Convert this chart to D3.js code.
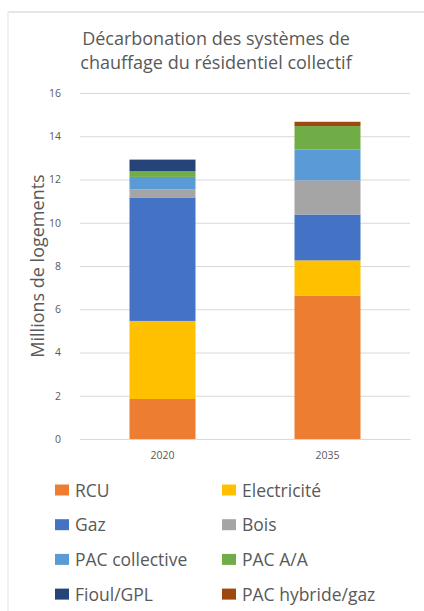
<!DOCTYPE html>
<html>
<head>
<meta charset="utf-8">
<script src="https://cdn.jsdelivr.net/npm/d3@7"></script>
<style>
  body { margin: 0; background: #fff; }
  svg text { font-family: "Open Sans", sans-serif; fill: #595959; }
</style>
</head>
<body>
<svg width="424" height="611"></svg>
<script>
// Data
var years = ["2020", "2035"];
var series = ["RCU", "Electricité", "Gaz", "Bois", "PAC collective", "PAC A/A", "Fioul/GPL", "PAC hybride/gaz"];
var colors = ["#ED7D31", "#FFC000", "#4472C4", "#A5A5A5", "#5B9BD5", "#70AD47", "#264478", "#9E480E"];
var values2020 = [1.85, 3.61, 5.71, 0.38, 0.57, 0.26, 0.54, 0];
var values2035 = [6.62, 1.64, 2.12, 1.58, 1.43, 1.08, 0, 0.2];
var yTicks = [0, 2, 4, 6, 8, 10, 12, 14, 16];

var svg = d3.select("svg");

// frame lines of the screenshot
svg.append("line").attr("x1", 8).attr("x2", 424).attr("y1", 12).attr("y2", 12)
    .attr("stroke", "#e6e6e6").attr("stroke-width", 2);
svg.append("line").attr("x1", 8).attr("x2", 8).attr("y1", 12).attr("y2", 611)
    .attr("stroke", "#ececec").attr("stroke-width", 1.5);

var x = d3.scaleBand().domain(years).range([80, 410]).paddingInner(0.6).paddingOuter(0.3);
var y = d3.scaleLinear().domain([0, 16]).range([439, 93]);

// title
var title = svg.append("text").attr("text-anchor", "middle").style("font-size", "18px");
title.append("tspan").attr("x", 216).attr("y", 45).text("Décarbonation des systèmes de");
title.append("tspan").attr("x", 216).attr("y", 69).text("chauffage du résidentiel collectif");

// grid
var yAxis = d3.axisLeft(y).tickValues(yTicks).tickSize(-(410 - 80)).tickPadding(19);
var gy = svg.append("g").attr("transform", "translate(80,0)").call(yAxis);
gy.select(".domain").remove();
gy.selectAll(".tick line").attr("stroke", "#d9d9d9");
gy.selectAll(".tick text").style("font-size", "10.5px").attr("fill", "#595959");

// stacked bars
var rows = years.map(function (yr, i) {
    var r = { year: yr };
    var vals = i === 0 ? values2020 : values2035;
    series.forEach(function (s, j) { r[s] = vals[j]; });
    return r;
});
var stacked = d3.stack().keys(series)(rows);

svg.append("g").selectAll("g")
    .data(stacked)
    .join("g")
    .attr("fill", function (d, i) { return colors[i]; })
    .selectAll("rect")
    .data(function (d) { return d; })
    .join("rect")
    .attr("x", function (d) { return x(d.data.year); })
    .attr("width", x.bandwidth())
    .attr("y", function (d) { return y(d[1]); })
    .attr("height", function (d) { return y(d[0]) - y(d[1]); });

// x axis labels
var xAxis = d3.axisBottom(x).tickSize(0).tickPadding(13);
var gx = svg.append("g").attr("transform", "translate(0,439)").call(xAxis);
gx.select(".domain").attr("stroke", "#d9d9d9");
gx.selectAll(".tick text").style("font-size", "10.5px").attr("fill", "#595959");

// y axis title
svg.append("text")
    .attr("transform", "translate(44,266) rotate(-90)")
    .attr("text-anchor", "middle")
    .style("font-size", "18px")
    .text("Millions de logements");

// legend
var legend = svg.append("g").selectAll("g")
    .data(series)
    .join("g")
    .attr("transform", function (d, i) {
        return "translate(" + (i % 2 === 0 ? 55 : 222) + "," + (490 + Math.floor(i / 2) * 34.7) + ")";
    });
legend.append("rect").attr("x", 0).attr("y", -5.5).attr("width", 14).attr("height", 11)
    .attr("fill", function (d, i) { return colors[i]; });
legend.append("text").attr("x", 20).attr("y", 6.5).style("font-size", "17.5px")
    .text(function (d) { return d; });
</script>
</body>
</html>
